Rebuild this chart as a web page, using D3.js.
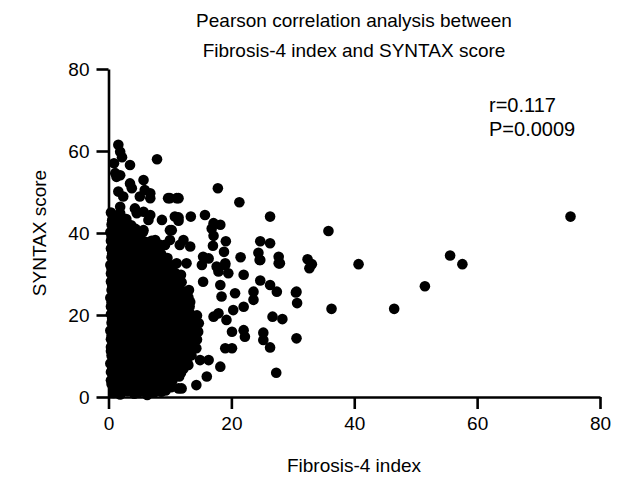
<!DOCTYPE html>
<html>
<head>
<meta charset="utf-8">
<script src="https://cdn.jsdelivr.net/npm/d3@7"></script>
<style>
  html, body { margin: 0; padding: 0; background: #fff; }
  svg text { font-family: "Liberation Sans", Arial, Helvetica, sans-serif; fill: #000; }
</style>
</head>
<body>
<svg id="chart" width="626" height="480"></svg>
<script>
// ---- Data: [Fibrosis-4 index, SYNTAX score] ----
const denseCluster = [
  [0.8,1.0],[1.9,0.6],[3.1,1.4],[4.2,0.8],[5.0,1.2],[6.3,0.5],[7.4,1.1],[8.6,1.3],
  [0.5,3.2],[1.6,2.8],[2.7,3.5],[3.9,2.6],[5.1,3.1],[6.2,3.4],[7.3,2.9],[8.5,3.0],[9.6,3.3],
  [1.0,5.3],[2.2,4.8],[3.3,5.6],[4.4,5.0],[5.6,4.7],[6.8,5.4],[7.9,5.1],[9.1,4.9],[10.3,5.5],[11.5,5.0],
  [0.6,7.2],[1.7,6.8],[2.9,7.5],[4.0,7.0],[5.2,6.6],[6.4,7.3],[7.5,7.1],[8.7,6.7],[9.8,7.4],[11.0,7.0],[12.2,6.9],
  [1.1,9.1],[2.3,8.7],[3.4,9.4],[4.6,9.0],[5.8,8.8],[6.9,9.5],[8.1,9.2],[9.3,8.6],[10.4,9.3],[11.6,9.0],[12.8,8.8],
  [0.4,11.2],[1.5,10.8],[2.7,11.5],[3.8,11.0],[5.0,10.7],[6.2,11.4],[7.3,11.1],[8.5,10.9],[9.7,11.3],[10.8,11.0],[12.0,10.6],[13.2,11.2],
  [1.0,13.1],[2.1,12.7],[3.3,13.4],[4.5,13.0],[5.6,12.8],[6.8,13.5],[8.0,13.2],[9.1,12.6],[10.3,13.3],[11.5,13.0],[12.6,12.8],[13.8,13.4],
  [0.5,15.0],[1.7,14.6],[2.8,15.4],[4.0,15.1],[5.2,14.7],[6.3,15.3],[7.5,15.0],[8.7,14.8],[9.8,15.5],[11.0,15.2],[12.2,14.7],[13.4,15.1],
  [1.2,17.2],[2.3,16.8],[3.5,17.5],[4.7,17.0],[5.8,16.6],[7.0,17.3],[8.2,17.1],[9.3,16.7],[10.5,17.4],[11.7,17.0],[12.9,16.9],[14.1,17.2],
  [0.6,19.1],[1.8,18.7],[2.9,19.4],[4.1,19.0],[5.3,18.8],[6.4,19.5],[7.6,19.2],[8.8,18.6],[9.9,19.3],[11.1,19.0],[12.3,18.8],[13.5,19.3],
  [1.1,21.2],[2.2,20.8],[3.4,21.5],[4.6,21.0],[5.7,20.7],[6.9,21.4],[8.1,21.1],[9.2,20.9],[10.4,21.3],[11.6,21.0],[12.8,20.6],
  [0.5,23.1],[1.6,22.7],[2.8,23.4],[4.0,23.0],[5.1,22.8],[6.3,23.5],[7.5,23.2],[8.6,22.6],[9.8,23.3],[11.0,23.0],[12.2,22.8],[13.3,23.2],
  [1.0,25.0],[2.2,24.6],[3.3,25.4],[4.5,25.1],[5.7,24.7],[6.8,25.3],[8.0,25.0],[9.2,24.8],[10.3,25.5],[11.5,25.2],[12.7,24.7],
  [0.6,27.2],[1.7,26.8],[2.9,27.5],[4.1,27.0],[5.2,26.6],[6.4,27.3],[7.6,27.1],[8.7,26.7],[9.9,27.4],[11.1,27.0],
  [1.2,29.1],[2.3,28.7],[3.5,29.4],[4.6,29.0],[5.8,28.8],[7.0,29.5],[8.1,29.2],[9.3,28.6],[10.5,29.3],[11.6,29.0],
  [0.5,31.2],[1.7,30.8],[2.8,31.5],[4.0,31.0],[5.2,30.7],[6.3,31.4],[7.5,31.1],[8.7,30.9],[9.8,31.3],
  [1.0,33.1],[2.2,32.7],[3.4,33.4],[4.5,33.0],[5.7,32.8],[6.9,33.5],[8.0,33.2],[9.2,32.6],
  [0.6,35.0],[1.8,34.6],[2.9,35.4],[4.1,35.1],[5.3,34.7],[6.4,35.3],[7.6,35.0],[8.6,34.8],
  [1.1,37.2],[2.3,36.8],[3.4,37.5],[4.6,37.0],[5.8,36.6],[6.8,37.3],
  [0.5,39.1],[1.7,38.7],[2.9,39.4],[4.0,39.0],[5.1,38.8],
  [1.0,41.2],[2.2,40.8],[3.3,41.5],[4.4,41.0],
  [0.6,43.1],[1.8,42.7],[2.9,43.4]
];

const denseFill = [
  [1.4,2.1],[2.5,1.8],[3.6,2.3],[4.8,1.9],[5.9,2.2],[7.0,1.7],[8.1,2.0],[9.3,1.6],[10.2,2.4],
  [0.4,4.1],[1.3,3.8],[2.4,4.3],[3.5,3.9],[4.7,4.2],[5.8,3.8],[6.9,4.1],[8.0,4.4],[9.1,3.9],[10.4,4.0],
  [0.4,6.1],[1.3,5.8],[2.5,6.3],[3.7,5.9],[4.8,6.2],[6.0,5.9],[7.1,6.3],[8.3,5.8],[9.4,6.1],[10.6,6.2],[11.8,5.9],
  [0.3,8.2],[1.4,7.9],[2.6,8.3],[3.7,7.8],[4.9,8.1],[6.1,8.2],[7.2,7.9],[8.4,8.3],[9.6,7.9],[10.8,8.1],[12.0,8.0],[13.0,7.8],
  [0.5,10.1],[1.7,9.8],[2.9,10.2],[4.0,9.9],[5.2,10.2],[6.4,9.8],[7.6,10.1],[8.8,10.3],[10.0,9.9],[11.2,10.1],[12.4,9.8],[13.5,10.2],
  [0.4,12.2],[1.6,11.9],[2.8,12.3],[3.9,11.8],[5.1,12.1],[6.3,12.2],[7.5,11.9],[8.6,12.3],[9.8,11.8],[11.0,12.1],[12.2,12.0],[13.3,12.3],[14.3,11.9],
  [0.4,14.1],[1.6,13.8],[2.7,14.2],[3.9,13.9],[5.1,14.2],[6.2,13.8],[7.4,14.1],[8.6,14.3],[9.7,13.9],[10.9,14.2],[12.1,13.8],[13.2,14.1],[14.4,14.0],
  [0.3,16.2],[1.4,15.9],[2.6,16.3],[3.8,15.8],[4.9,16.1],[6.1,16.2],[7.3,15.9],[8.5,16.3],[9.6,15.8],[10.8,16.1],[12.0,16.0],[13.2,16.3],[14.6,15.9],
  [0.5,18.1],[1.7,17.8],[2.9,18.2],[4.0,17.9],[5.2,18.2],[6.4,17.8],[7.6,18.1],[8.8,18.3],[9.9,17.9],[11.1,18.2],[12.3,17.8],[13.5,18.1],[14.7,18.0],
  [0.4,20.2],[1.5,19.9],[2.7,20.3],[3.9,19.8],[5.0,20.1],[6.2,20.2],[7.4,19.9],[8.6,20.3],[9.7,19.8],[10.9,20.1],[12.1,20.0],[13.3,20.3],[14.4,19.9],
  [0.4,22.1],[1.5,21.8],[2.7,22.2],[3.9,21.9],[5.0,22.2],[6.2,21.8],[7.4,22.1],[8.5,22.3],[9.7,21.9],[10.9,22.2],[12.1,21.8],[13.2,22.1],
  [0.3,24.2],[1.4,23.9],[2.6,24.3],[3.8,23.8],[4.9,24.1],[6.1,24.2],[7.3,23.9],[8.4,24.3],[9.6,23.8],[10.8,24.1],[12.0,24.0],[13.0,24.3],
  [0.5,26.1],[1.6,25.8],[2.8,26.2],[4.0,25.9],[5.1,26.2],[6.3,25.8],[7.4,26.1],[8.6,26.3],[9.8,25.9],[11.0,26.2],[12.1,25.8],[13.1,26.1],
  [0.4,28.2],[1.5,27.9],[2.6,28.3],[3.8,27.8],[5.0,28.1],[6.1,28.2],[7.3,27.9],[8.5,28.3],[9.6,27.8],[10.8,28.1],[11.9,28.0],
  [0.4,30.1],[1.5,29.8],[2.7,30.2],[3.9,29.9],[5.0,30.2],[6.2,29.8],[7.4,30.1],[8.5,30.3],[9.7,29.9],[10.9,30.2],[11.8,29.8],
  [0.3,32.2],[1.4,31.9],[2.6,32.3],[3.7,31.8],[4.9,32.1],[6.1,32.2],[7.2,31.9],[8.4,32.3],[9.5,31.8],[10.5,32.1],
  [0.5,34.1],[1.6,33.8],[2.8,34.2],[3.9,33.9],[5.1,34.2],[6.3,33.8],[7.4,34.1],[8.6,34.3],[9.6,33.9],
  [0.4,36.2],[1.5,35.9],[2.7,36.3],[3.8,35.8],[5.0,36.1],[6.1,36.2],[7.3,35.9],[8.3,36.2],
  [0.4,38.1],[1.5,37.8],[2.7,38.2],[3.8,37.9],[5.0,38.2],[6.1,37.8],[7.0,38.1],
  [0.3,40.2],[1.4,39.9],[2.5,40.3],[3.6,39.8],[4.7,40.1],[5.6,40.2],
  [0.5,42.1],[1.5,41.8],[2.6,42.2],[3.7,41.9],
  [1.2,44.2],[0.4,45.0]
];

const upperLeft = [
  [1.6,61.5],[1.9,59.8],[2.2,58.5],[0.9,57.0],[3.5,56.6],[7.9,58.0],
  [1.1,54.6],[1.9,54.1],[1.3,53.7],[3.5,52.1],[3.8,50.9],[5.7,52.9],
  [1.6,50.1],[2.4,48.9],[5.9,50.5],[6.8,49.7],[5.1,48.9],[6.8,48.5],
  [9.7,48.5],[11.1,48.5],[10.0,48.5],[1.9,46.4],[1.9,44.8],[4.3,46.0],
  [4.6,44.8],[5.7,45.2],[6.8,44.4],[6.5,43.2],[8.7,43.2],[10.8,44.0],
  [10.0,40.7],[5.7,40.7],[4.9,38.3],[7.6,38.3],[10.0,38.3],[8.4,37.1],[9.2,37.1]
];

const midRange = [
  [17.8,50.9],[21.3,47.5],[26.3,44.0],[11.4,48.5],[11.4,43.8],[11.4,43.0],
  [13.4,44.0],[15.7,44.4],[17.1,42.4],[18.2,42.0],[16.8,41.1],[17.1,39.3],
  [19.1,38.0],[17.0,36.9],[18.8,35.4],[21.5,34.1],[24.7,38.0],[26.3,37.5],
  [24.4,35.2],[24.6,33.4],[27.7,34.2],[27.7,32.6],[12.2,38.3],[13.3,36.7],
  [11.6,37.1],[10.3,40.7],[15.4,34.2],[16.3,33.8],[15.2,32.2],[12.7,32.6],
  [11.1,32.6],[17.6,31.8],[19.0,32.2],
  [30.6,14.3],[27.3,5.9],[26.3,12.1],[25.2,15.7],[25.2,13.9],[26.7,19.6],
  [28.3,19.0],[30.6,25.7],[27.4,25.7],[26.3,27.3],[24.7,28.4],[23.6,25.7],
  [23.6,23.7],[22.0,29.8],[22.0,16.3],[22.2,14.7],[20.1,15.9],[20.1,11.9],
  [19.0,11.9],[20.6,25.3],[20.3,21.2],[22.0,22.0],[18.2,7.4],[16.0,5.0],
  [14.3,2.9],[11.4,2.1],[11.9,2.1],[16.3,9.0],[14.9,9.0],[10.0,4.6],
  [27.9,32.6],[24.7,33.4],[19.5,30.2],[19.0,32.6],[17.9,30.6],[15.4,28.1],
  [18.2,27.3],[18.4,24.5],[17.1,19.6],[19.2,18.8],[17.9,20.4]
];

const outliers = [
  [75.2,44.0],[35.8,40.5],[32.4,33.6],[33.1,32.4],[32.7,31.4],[40.7,32.4],
  [55.6,34.5],[57.6,32.4],[51.5,27.0],[30.5,25.5],[30.7,22.9],[36.3,21.5],
  [46.5,21.5]
];

const xTicks = [0, 20, 40, 60, 80];
const yTicks = [0, 20, 40, 60, 80];
const titleLines = ["Pearson correlation analysis between", "Fibrosis-4 index and SYNTAX score"];
const statLines = ["r=0.117", "P=0.0009"];

// ---- Drawing ----
const svg = d3.select("#chart");
const x = d3.scaleLinear().domain([0, 80]).range([108.5, 600]);
const y = d3.scaleLinear().domain([0, 80]).range([397, 69]);

const allPoints = [].concat(denseCluster, denseFill, upperLeft, midRange, outliers);

svg.append("g")
  .selectAll("circle")
  .data(allPoints)
  .join("circle")
  .attr("cx", d => x(d[0]))
  .attr("cy", d => y(d[1]))
  .attr("r", 5.3)
  .attr("fill", "#000");

const xAxis = svg.append("g")
  .attr("transform", `translate(0,${y(0)})`)
  .call(d3.axisBottom(x).tickValues(xTicks).tickSize(12).tickSizeOuter(0).tickPadding(8));
const yAxis = svg.append("g")
  .attr("transform", `translate(${x(0)},0)`)
  .call(d3.axisLeft(y).tickValues(yTicks).tickSize(12).tickSizeOuter(0).tickPadding(7));

[xAxis, yAxis].forEach(g => {
  g.select(".domain").attr("stroke", "#000").attr("stroke-width", 2.6);
  g.selectAll(".tick line").attr("stroke", "#000").attr("stroke-width", 2.6);
  g.selectAll(".tick text").attr("font-size", 19).attr("fill", "#000")
    .attr("font-family", "Liberation Sans, Arial, sans-serif");
});

svg.append("g").selectAll("text")
  .data(titleLines)
  .join("text")
  .attr("x", 354)
  .attr("y", (d, i) => 27 + i * 30)
  .attr("text-anchor", "middle")
  .attr("font-size", 19)
  .text(d => d);

svg.append("g").selectAll("text")
  .data(statLines)
  .join("text")
  .attr("x", 489)
  .attr("y", (d, i) => 112 + i * 24)
  .attr("font-size", 20)
  .text(d => d);

svg.append("text")
  .attr("x", 354)
  .attr("y", 472)
  .attr("text-anchor", "middle")
  .attr("font-size", 19)
  .text("Fibrosis-4 index");

svg.append("text")
  .attr("transform", `translate(46,233) rotate(-90)`)
  .attr("text-anchor", "middle")
  .attr("font-size", 19)
  .text("SYNTAX score");
</script>
</body>
</html>
